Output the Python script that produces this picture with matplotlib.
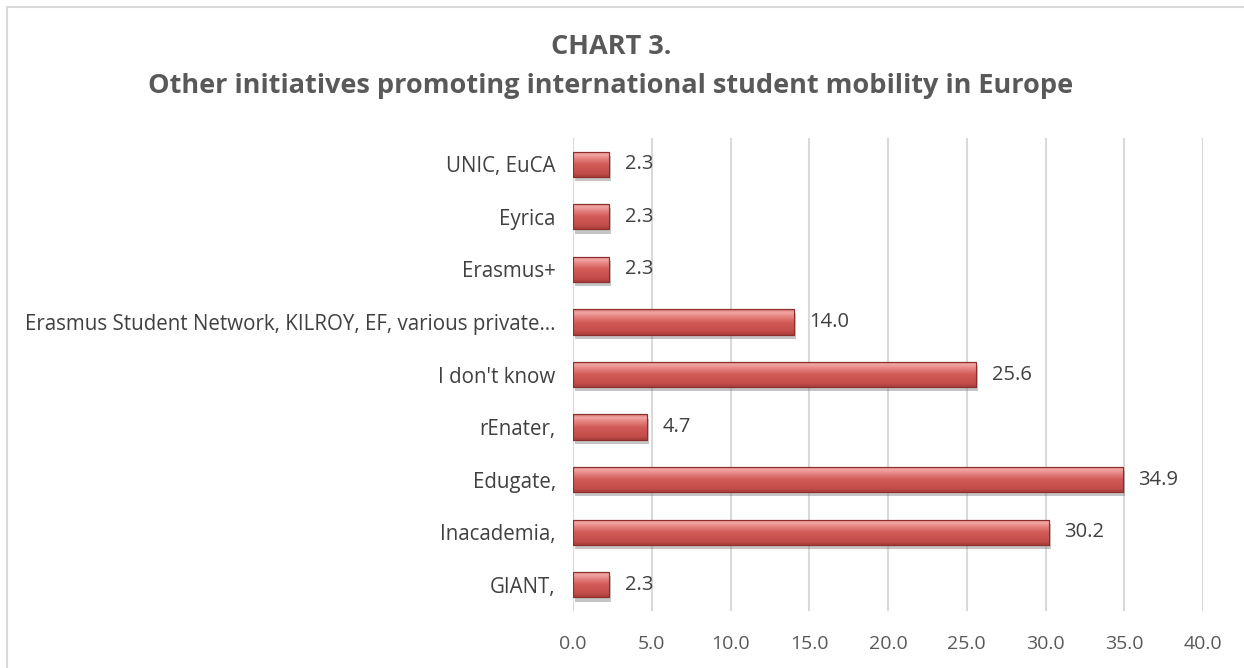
import numpy as np
import matplotlib
matplotlib.use("Agg")
import matplotlib.pyplot as plt
from matplotlib.patches import Rectangle
import matplotlib.patheffects as pe
from matplotlib.colors import LinearSegmentedColormap

categories = ["GIANT,", "Inacademia,", "Edugate,", "rEnater,", "I don't know",
              "Erasmus Student Network, KILROY, EF, various private…",
              "Erasmus+", "Eyrica", "UNIC, EuCA"]
values = [2.3, 30.2, 34.9, 4.7, 25.6, 14.0, 2.3, 2.3, 2.3]
xticks = [0, 5, 10, 15, 20, 25, 30, 35, 40]
title = "CHART 3.\nOther initiatives promoting international student mobility in Europe"

plt.rcParams['font.family'] = ['Open Sans', 'DejaVu Sans']

W, H = 1244, 668
fig = plt.figure(figsize=(W/100, H/100), dpi=100)
fig.patch.set_facecolor("white")

# chart border
fig.patches.append(Rectangle((7/W, -0.1), 1.2, (H-6.5)/H + 0.1, transform=fig.transFigure,
                             fill=False, edgecolor="#d9d9d9", linewidth=1.5))

ax = fig.add_axes([573/W, 1-611/H, (1203-573)/W, (611-138)/H])
y = np.arange(len(categories))
bars = ax.barh(y, values, height=0.48, color="#C0504D", edgecolor="#8c2f2c", linewidth=0.8,
               zorder=3)
for b in bars:
    b.set_path_effects([pe.SimplePatchShadow(offset=(1.5, -3), shadow_rgbFace="#808080", alpha=0.45),
                        pe.Normal()])

cmap = LinearSegmentedColormap.from_list("bev", [
    (0.0, "#a83c39"), (0.12, "#c24c49"), (0.5, "#d35c59"),
    (0.75, "#e88a88"), (0.88, "#f2a8a6"), (1.0, "#cc6764")])
grad = np.linspace(0, 1, 64).reshape(-1, 1)
for b in bars:
    x0, y0 = b.get_x(), b.get_y()
    w, h = b.get_width(), b.get_height()
    im = ax.imshow(grad, extent=(x0, x0 + w, y0, y0 + h), origin="lower", cmap=cmap,
                   aspect="auto", zorder=4, interpolation="bicubic")
    im.set_clip_path(b)
    ax.add_patch(Rectangle((x0, y0), w, h, fill=False, edgecolor="#8c2f2c", linewidth=0.8, zorder=5))

for yi, v in zip(y, values):
    ax.text(v + 1.0, yi, f"{v:.1f}", va="center", ha="left", fontsize=14.5, color="#404040", zorder=6)

ax.set_xlim(0, 40)
ax.set_ylim(-0.5, len(categories) - 0.5)
ax.set_xticks(xticks)
ax.set_xticklabels([f"{t:.1f}" for t in xticks], fontsize=14, color="#595959")
ax.set_yticks(y)
ax.set_yticklabels(categories, fontsize=14.8, color="#404040")
ax.tick_params(axis="y", length=0, pad=12.5)
ax.tick_params(axis="x", length=0, pad=17)
ax.grid(axis="x", color="#d9d9d9", linewidth=1.5, zorder=0)
for s in ax.spines.values():
    s.set_visible(False)
ax.set_facecolor("none")

fig.text(611/W, 1-66.5/H, title, ha="center", va="center", fontsize=19.5, fontweight="bold",
         color="#595959", linespacing=1.65)

fig.savefig("out.png", dpi=100)
